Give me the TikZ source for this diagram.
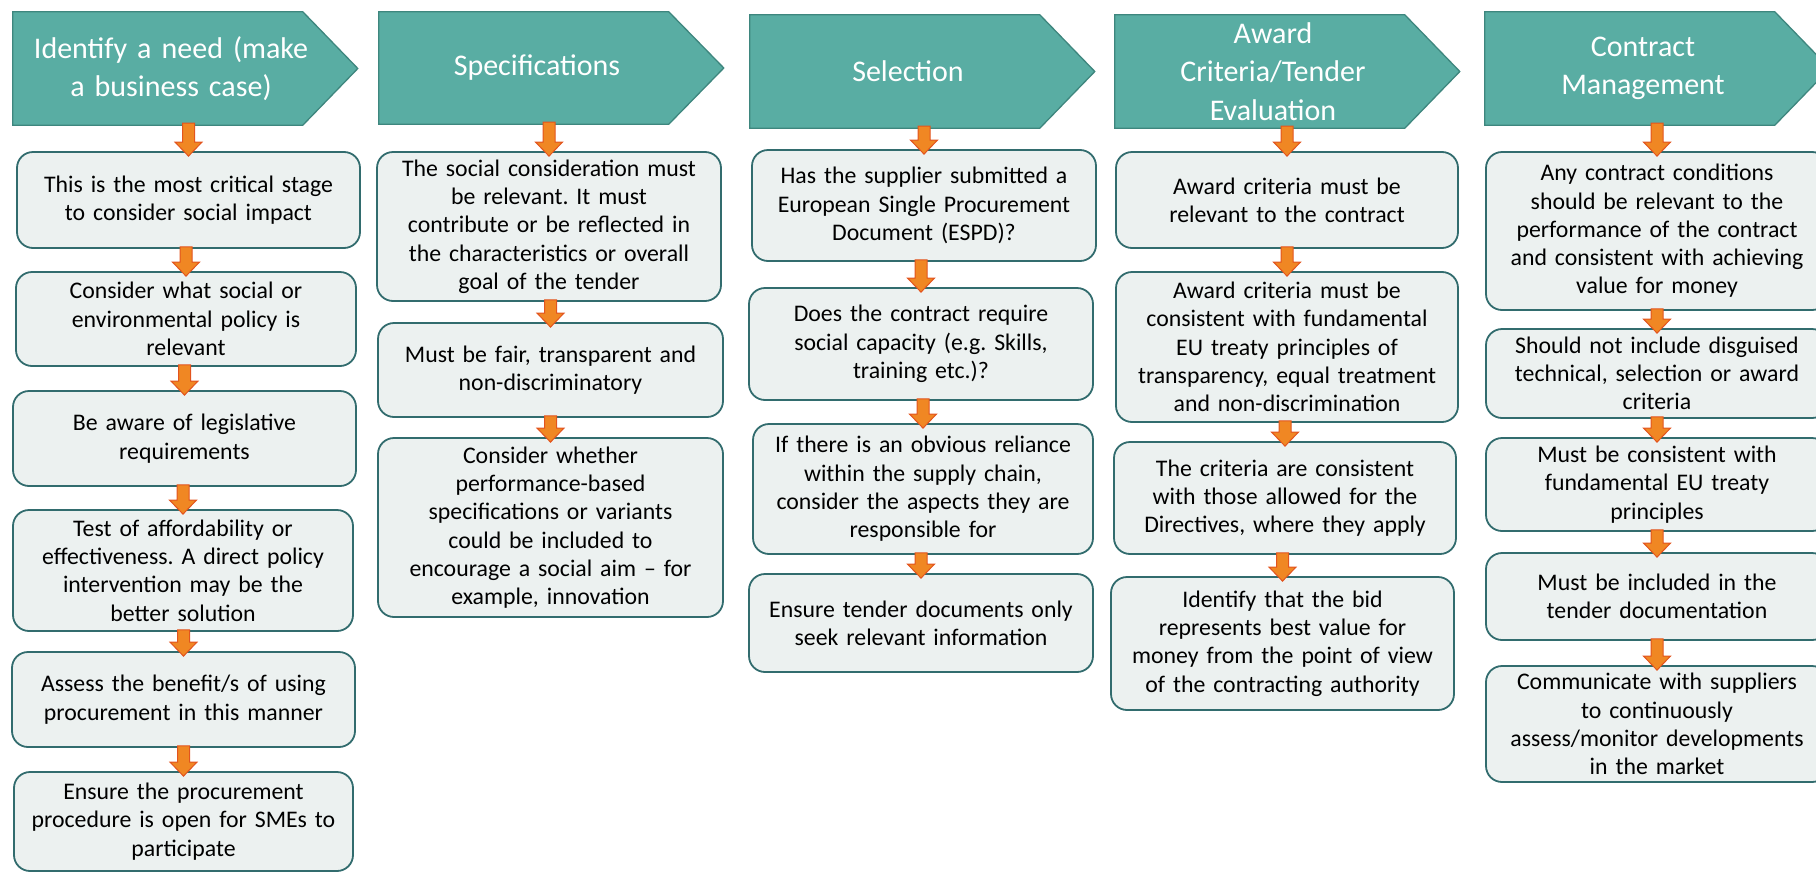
\documentclass[tikz,border=0pt]{standalone}
\usepackage{fontspec}
\setmainfont{Carlito}
\frenchspacing
\usetikzlibrary{calc,backgrounds}
\definecolor{hdrfill}{RGB}{89,173,163}
\definecolor{hdrline}{RGB}{62,134,126}
\definecolor{boxfill}{RGB}{236,241,240}
\definecolor{boxline}{RGB}{50,108,110}
\definecolor{arrfill}{RGB}{240,135,35}
\definecolor{arrline}{RGB}{226,84,30}
\tikzset{
  box/.style={draw=boxline, fill=boxfill, line width=1.8pt, rounded corners=16pt,
    inner sep=2pt, text width=334pt, align=center, font=\fontsize{23.8}{28.3}\selectfont},
  hdr/.style={minimum width=316, inner sep=0pt, text width=310pt, align=center,
    text=white, font=\fontsize{30}{38.5}\selectfont},
  hdrshape/.style={fill=hdrfill, draw=hdrline, line width=1.3pt},
  arrowstyle/.style={fill=arrfill, draw=arrline, line width=1pt, line join=miter}
}
\newcommand{\bx}[6]{\node[box,minimum width={#3-#2},minimum height={#5-#4}] (#1) at ({(#2+#3)/2},{(#4+#5)/2}) {#6};}
\newcommand{\hd}[5]{%
  \node[hdr,minimum height={#4-#3}] (#1) at ({#2+158},{(#3+#4)/2}) {#5};
  \begin{scope}[on background layer]
    \draw[hdrshape] (#1.north west) -- ($(#1.north west)+(290,0)$) -- ($(#1.west)+(345,0)$)
      -- ($(#1.south west)+(290,0)$) -- (#1.south west) -- cycle;
  \end{scope}}
\newcommand{\blkarrow}[2]{%
  \path[arrowstyle] let \p1=(#1.south), \p2=(#2.north) in
    ({\x2-6pt},{\y1+2pt}) -- ({\x2+6pt},{\y1+2pt}) -- ({\x2+6pt},{\y2+9pt})
    -- ({\x2+13.5pt},{\y2+9pt}) -- (\x2,{\y2-5pt}) -- ({\x2-13.5pt},{\y2+9pt})
    -- ({\x2-6pt},{\y2+9pt}) -- cycle;}
\begin{document}
\begin{tikzpicture}[x=1pt,y=-1pt]
\useasboundingbox (0,0) rectangle (1816,873);
% headers
\hd{h1}{13}{12}{125}{Identify a need (make\\a business case)}
\hd{h2}{379}{12}{124}{Specifications}
\hd{h3}{750}{15}{128}{Selection}
\hd{h4}{1115}{15}{128}{Award\\Criteria/Tender\\Evaluation}
\hd{h5}{1485}{12}{125}{Contract\\Management}
% column 1
\bx{b11}{17}{360}{152}{248}{This is the most critical stage\\to consider social impact}
\bx{b12}{16}{356}{272}{366}{Consider what social or\\environmental policy is\\relevant}
\bx{b13}{13}{356}{391}{486}{Be aware of legislative\\requirements}
\bx{b14}{13}{353}{510}{631}{Test of affordability or\\effectiveness. A direct policy\\intervention may be the\\better solution}
\bx{b15}{12}{355}{652}{747}{Assess the benefit/s of using\\procurement in this manner}
\bx{b16}{14}{353}{772}{871}{Ensure the procurement\\procedure is open for SMEs to\\participate}
% column 2
\bx{b21}{377}{721}{152}{301}{The social consideration must\\be relevant. It must\\contribute or be reflected in\\the characteristics or overall\\goal of the tender}
\bx{b22}{378}{723}{323}{417}{Must be fair, transparent and\\non-discriminatory}
\bx{b23}{378}{723}{438}{617}{Consider whether\\performance-based\\specifications or variants\\could be included to\\encourage a social aim – for\\example, innovation}
% column 3
\bx{b31}{752}{1096}{150}{261}{Has the supplier submitted a\\European Single Procurement\\Document (ESPD)?}
\bx{b32}{749}{1093}{288}{400}{Does the contract require\\social capacity (e.g. Skills,\\training etc.)?}
\bx{b33}{753}{1093}{424}{554}{If there is an obvious reliance\\within the supply chain,\\consider the aspects they are\\responsible for}
\bx{b34}{749}{1093}{574}{672}{Ensure tender documents only\\seek relevant information}
% column 4
\bx{b41}{1116}{1458}{152}{248}{Award criteria must be\\relevant to the contract}
\bx{b42}{1116}{1458}{272}{422}{Award criteria must be\\consistent with fundamental\\EU treaty principles of\\transparency, equal treatment\\and non-discrimination}
\bx{b43}{1114}{1456}{442}{554}{The criteria are consistent\\with those allowed for the\\Directives, where they apply}
\bx{b44}{1111}{1454}{577}{710}{Identify that the bid\\represents best value for\\money from the point of view\\of the contracting authority}
% column 5
\bx{b51}{1486}{1828}{152}{310}{Any contract conditions\\should be relevant to the\\performance of the contract\\and consistent with achieving\\value for money}
\bx{b52}{1486}{1828}{329}{418}{Should not include disguised\\technical, selection or award\\criteria}
\bx{b53}{1486}{1828}{438}{531}{Must be consistent with\\fundamental EU treaty\\principles}
\bx{b54}{1486}{1828}{553}{640}{Must be included in the\\tender documentation}
\bx{b55}{1486}{1828}{666}{782}{Communicate with suppliers\\to continuously\\assess/monitor developments\\in the market}
% arrows
\blkarrow{h1}{b11}\blkarrow{b11}{b12}\blkarrow{b12}{b13}\blkarrow{b13}{b14}\blkarrow{b14}{b15}\blkarrow{b15}{b16}
\blkarrow{h2}{b21}\blkarrow{b21}{b22}\blkarrow{b22}{b23}
\blkarrow{h3}{b31}\blkarrow{b31}{b32}\blkarrow{b32}{b33}\blkarrow{b33}{b34}
\blkarrow{h4}{b41}\blkarrow{b41}{b42}\blkarrow{b42}{b43}\blkarrow{b43}{b44}
\blkarrow{h5}{b51}\blkarrow{b51}{b52}\blkarrow{b52}{b53}\blkarrow{b53}{b54}\blkarrow{b54}{b55}
\end{tikzpicture}
\end{document}
